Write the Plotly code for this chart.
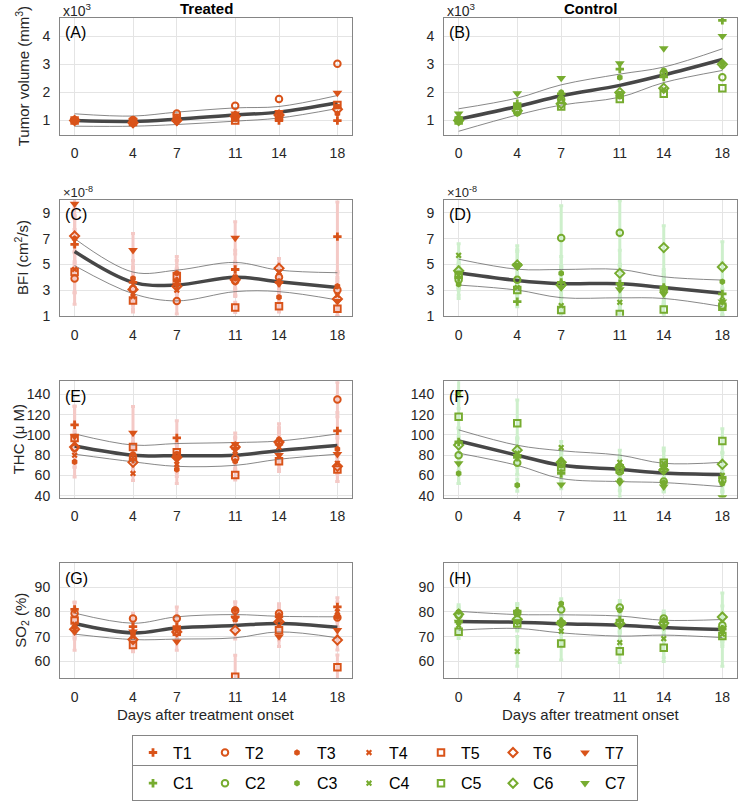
import plotly.graph_objects as go

# ---------------- data ----------------
DAYS = [0, 4, 7, 11, 14, 18]
X_TICKS = [0, 4, 7, 11, 14, 18]
T_NAMES = ["T1", "T2", "T3", "T4", "T5", "T6", "T7"]
C_NAMES = ["C1", "C2", "C3", "C4", "C5", "C6", "C7"]

# Tumor volume (x10^3 mm^3), rows = subjects, cols = days
VOL_T = [
    [1.00, 0.95, 1.05, 1.20, 1.00, 1.00],
    [1.00, 1.02, 1.25, 1.53, 1.77, 3.02],
    [0.98, 0.90, 1.05, 1.10, 1.25, 1.25],
    [1.00, 0.97, 1.00, 1.05, 1.10, 1.50],
    [1.00, 0.95, 1.10, 1.00, 1.15, 1.55],
    [1.00, 0.92, 1.00, 1.15, 1.20, 1.40],
    [1.02, 1.00, 0.95, 1.25, 1.30, 1.98],
]
VOL_C = [
    [1.00, 1.60, 1.95, 2.83, 2.55, 4.56],
    [1.05, 1.30, 1.75, 1.90, 2.70, 2.54],
    [0.95, 1.25, 2.00, 2.53, 2.78, 3.03],
    [1.00, 1.50, 1.80, 1.95, 2.10, 2.95],
    [1.00, 1.40, 1.50, 1.77, 1.95, 2.15],
    [1.00, 1.35, 1.60, 2.00, 2.15, 3.00],
    [1.25, 1.97, 2.51, 3.03, 3.56, 4.00],
]
VOL_T_MEAN = [1.00, 0.97, 1.05, 1.20, 1.30, 1.63]
VOL_T_UP = [1.24, 1.16, 1.30, 1.45, 1.50, 1.89]
VOL_T_LO = [0.80, 0.80, 0.86, 0.98, 1.09, 1.43]
VOL_C_MEAN = [1.05, 1.50, 1.88, 2.25, 2.62, 3.17]
VOL_C_UP = [1.42, 1.80, 2.27, 2.65, 2.90, 3.55]
VOL_C_LO = [0.62, 1.20, 1.55, 1.83, 2.35, 2.78]

# BFI (x1e-8 cm^2/s)
BFI_T = [
    [6.55, 3.60, 3.70, 4.60, 3.60, 7.15],
    [3.90, 3.10, 2.15, 3.70, 4.00, 3.00],
    [7.00, 3.90, 4.30, 3.90, 2.45, 3.30],
    [4.60, 2.50, 3.00, 4.00, 4.40, 2.60],
    [4.40, 2.20, 4.10, 1.65, 1.75, 1.55],
    [7.20, 3.05, 3.30, 3.80, 4.70, 2.30],
    [9.70, 6.10, 3.40, 7.05, 3.50, 2.15],
]
BFI_T_ERR = [
    [2.0, 1.1, 1.0, 1.5, 0.8, 2.7],
    [2.0, 1.2, 1.0, 1.2, 0.9, 1.0],
    [1.8, 1.4, 1.3, 1.3, 0.9, 1.0],
    [1.8, 1.0, 1.0, 1.0, 0.7, 1.2],
    [1.6, 0.9, 1.2, 0.4, 0.45, 0.6],
    [2.2, 1.2, 1.0, 1.2, 0.75, 1.3],
    [2.0, 1.3, 1.2, 1.25, 0.9, 1.2],
]
BFI_C = [
    [4.00, 2.10, 3.60, 3.50, 3.20, 2.70],
    [3.80, 3.80, 7.05, 7.45, 3.00, 1.80],
    [3.45, 4.80, 4.30, 3.40, 3.20, 3.65],
    [5.70, 3.20, 1.80, 2.05, 2.90, 2.20],
    [4.20, 3.00, 1.45, 1.15, 1.50, 1.70],
    [4.50, 4.95, 3.40, 4.30, 6.30, 4.80],
    [4.30, 4.93, 3.20, 3.05, 2.70, 2.10],
]
BFI_C_ERR = [
    [1.0, 0.4, 1.2, 1.5, 1.0, 0.9],
    [1.2, 1.1, 2.5, 2.5, 1.2, 0.8],
    [1.1, 1.2, 1.3, 1.5, 1.2, 1.5],
    [0.9, 0.9, 0.6, 1.0, 1.0, 0.8],
    [1.0, 0.9, 0.3, 0.3, 0.4, 0.7],
    [1.3, 1.5, 1.5, 1.8, 1.7, 1.95],
    [1.2, 1.2, 1.5, 1.4, 1.0, 1.0],
]
BFI_T_MEAN = [6.00, 3.60, 3.40, 4.00, 3.65, 3.20]
BFI_T_UP = [7.00, 4.40, 4.55, 5.15, 4.55, 4.35]
BFI_T_LO = [4.90, 2.72, 2.16, 2.88, 2.88, 2.23]
BFI_C_MEAN = [4.35, 3.75, 3.50, 3.50, 3.20, 2.75]
BFI_C_UP = [5.40, 4.62, 4.60, 4.60, 4.03, 3.78]
BFI_C_LO = [3.39, 3.00, 2.41, 2.40, 2.35, 1.72]

# THC (uM)
THC_T = [
    [110, 76, 97, 87, 91, 104],
    [87, 78.7, 80, 77, 92, 135],
    [73.5, 81, 66, 74, 95.5, 86],
    [80, 62, 71, 81, 88, 72],
    [97, 88, 83, 60.5, 74, 66],
    [88, 73, 78, 88, 93, 69],
    [98.5, 102, 77, 91, 80, 81],
]
THC_T_ERR = [
    [18, 12, 17, 10, 12, 18],
    [15, 12, 14, 10, 15, 17],
    [15, 12, 14, 10, 10, 14],
    [12, 7, 12, 9, 10, 10],
    [14, 10, 12, 5, 10, 12],
    [16, 12, 13, 10, 18, 15],
    [30, 26, 14, 11, 14, 16],
]
THC_C = [
    [93, 78, 62, 70, 66, 58],
    [80, 72.5, 71, 64, 54, 55],
    [62, 50.5, 75, 55, 53, 52],
    [141, 82, 87.5, 73, 72, 60],
    [118, 111.5, 68, 66, 72.5, 94],
    [90, 85, 73, 68, 65.5, 71],
    [72, 79, 51, 53, 49, 38.5],
]
THC_C_ERR = [
    [14, 10, 8, 10, 9, 8],
    [15, 12, 9, 11, 8, 9],
    [10, 6, 10, 10, 9, 8],
    [15, 14, 6, 12, 15, 10],
    [20, 23, 9, 11, 12, 12],
    [16, 12, 10, 10, 10, 12],
    [20, 18, 4, 15, 5, 5],
]
THC_T_MEAN = [89, 80, 79.5, 80, 84.5, 89.5]
THC_T_UP = [101, 90, 91.5, 92.5, 94, 101]
THC_T_LO = [81, 73.5, 69, 70, 76, 81]
THC_C_MEAN = [94, 80, 70, 66, 62.5, 61]
THC_C_UP = [105, 89.8, 84.4, 80, 72, 73]
THC_C_LO = [82, 70, 57, 54, 53, 49]

# SO2 (%)
SO2_T = [
    [81, 74, 74, 78, 78, 82],
    [79.3, 77.3, 77.3, 80.5, 79.3, 77.7],
    [73.7, 71.5, 73, 81, 78.5, 78],
    [75, 70, 72, 77, 76.6, 80],
    [76.5, 66.6, 72, 53.8, 72.6, 57.6],
    [73, 68.8, 71.9, 72.6, 76, 68.6],
    [72, 72, 68, 77.3, 70, 72.6],
]
SO2_T_ERR = [
    [3, 3, 4, 4, 4, 3.7],
    [4.5, 2.2, 4.7, 3.5, 4, 4],
    [4, 3, 4, 3, 4, 4],
    [4, 3, 4, 4, 4, 4],
    [5, 2.7, 4, 8.7, 4, 5],
    [4, 4, 4, 3.6, 4, 4],
    [7.5, 4, 3.5, 4, 4, 4],
]
SO2_C = [
    [76, 80.3, 76, 76.6, 76, 73],
    [78.6, 79.5, 80.9, 81.8, 77.3, 74.6],
    [80, 80, 83.3, 80.6, 76.5, 72],
    [74.5, 64, 72.2, 67.6, 69.2, 71],
    [72, 75.3, 67.2, 64.1, 65.5, 70.2],
    [79, 77, 75.5, 75.3, 75.5, 77.9],
    [75.9, 76, 75, 74.5, 74, 73.3],
]
SO2_C_ERR = [
    [3, 3, 3, 4, 3, 5],
    [3, 3, 3, 2.8, 3, 5],
    [2.9, 3.3, 2, 3, 3, 5],
    [3, 6, 5, 4, 9.3, 5],
    [2.8, 3, 6.7, 4.6, 4, 12.2],
    [3, 3, 3, 3, 3, 9.7],
    [3, 3, 3, 3, 3, 4],
]
SO2_T_MEAN = [75.3, 71.5, 73.5, 74.5, 75.3, 73.8]
SO2_T_UP = [79.5, 75.4, 78, 78.9, 78.2, 78]
SO2_T_LO = [71, 68.8, 69, 69.5, 71.9, 69.5]
SO2_C_MEAN = [76.1, 75.8, 75.2, 74.6, 73.7, 72.9]
SO2_C_UP = [80.2, 78.9, 78.8, 78.3, 76.6, 76.9]
SO2_C_LO = [72.6, 73.3, 71.5, 70.2, 70.6, 69.6]

# ---------------- layout / style ----------------
W, H = 738, 804
FONT = "Liberation Sans, Arial, Helvetica, sans-serif"
T_COLOR = "#D95319"
C_COLOR = "#77AC30"
T_ERR_COLOR = "#F4C9C6"
C_ERR_COLOR = "#CDEFCB"
SYMBOLS = ["cross", "circle-open", "hexagon", "x", "square-open", "diamond-open", "triangle-down"]
SIZES = [7, 6.5, 6.5, 5.5, 6.5, 7, 8.5]
OPEN = [False, True, False, False, True, True, False]


def fx(px):
    return px / W


def fy(py):
    return 1 - py / H


COLS = [(60, 352), (444, 737)]
ROWS = [(18, 136), (202, 319), (385, 502.5), (569, 685)]
YLAB_X = [22, 22, 18, 22]

rows_cfg = [
    dict(T=VOL_T, TE=None, TM=(VOL_T_MEAN, VOL_T_UP, VOL_T_LO),
         C=VOL_C, CE=None, CM=(VOL_C_MEAN, VOL_C_UP, VOL_C_LO),
         yr=[0.5, 4.65], yt=[1, 2, 3, 4], ylab="Tumor volume (mm<sup>3</sup>)", letters=("(A)", "(B)")),
    dict(T=BFI_T, TE=BFI_T_ERR, TM=(BFI_T_MEAN, BFI_T_UP, BFI_T_LO),
         C=BFI_C, CE=BFI_C_ERR, CM=(BFI_C_MEAN, BFI_C_UP, BFI_C_LO),
         yr=[1, 10], yt=[1, 3, 5, 7, 9], ylab="BFI (cm<sup>2</sup>/s)", letters=("(C)", "(D)")),
    dict(T=THC_T, TE=THC_T_ERR, TM=(THC_T_MEAN, THC_T_UP, THC_T_LO),
         C=THC_C, CE=THC_C_ERR, CM=(THC_C_MEAN, THC_C_UP, THC_C_LO),
         yr=[38.3, 153], yt=[40, 60, 80, 100, 120, 140], ylab="THC (μ M)", letters=("(E)", "(F)")),
    dict(T=SO2_T, TE=SO2_T_ERR, TM=(SO2_T_MEAN, SO2_T_UP, SO2_T_LO),
         C=SO2_C, CE=SO2_C_ERR, CM=(SO2_C_MEAN, SO2_C_UP, SO2_C_LO),
         yr=[53.2, 99.6], yt=[60, 70, 80, 90], ylab="SO<sub>2</sub> (%)", letters=("(G)", "(H)")),
]

fig = go.Figure()
annotations = []
layout_axes = {}

for r, cfg in enumerate(rows_cfg):
    for c in range(2):
        idx = r * 2 + c + 1
        xa = "x" if idx == 1 else f"x{idx}"
        ya = "y" if idx == 1 else f"y{idx}"
        vals = cfg["T"] if c == 0 else cfg["C"]
        errs = cfg["TE"] if c == 0 else cfg["CE"]
        mean, up, lo = cfg["TM"] if c == 0 else cfg["CM"]
        names = T_NAMES if c == 0 else C_NAMES
        col = T_COLOR if c == 0 else C_COLOR
        ecol = T_ERR_COLOR if c == 0 else C_ERR_COLOR

        if errs is not None:
            for s in range(7):
                fig.add_trace(go.Scatter(
                    x=DAYS, y=vals[s], mode="markers", xaxis=xa, yaxis=ya,
                    marker=dict(size=1, color="rgba(0,0,0,0)"),
                    error_y=dict(type="data", array=errs[s], color=ecol, thickness=3, width=2),
                    showlegend=False, hoverinfo="skip"))
        for curve, w, lc in [(up, 0.8, "#6a6a6a"), (lo, 0.8, "#6a6a6a"), (mean, 3.5, "#474747")]:
            fig.add_trace(go.Scatter(
                x=DAYS, y=curve, mode="lines", xaxis=xa, yaxis=ya,
                line=dict(shape="spline", smoothing=1.0, width=w, color=lc),
                showlegend=False, hoverinfo="skip"))
        for s in range(7):
            fig.add_trace(go.Scatter(
                x=DAYS, y=vals[s], mode="markers", xaxis=xa, yaxis=ya,
                name=names[s], legendgroup=names[s],
                legend="legend" if c == 0 else "legend2",
                showlegend=(r == 0),
                marker=dict(symbol=SYMBOLS[s], size=SIZES[s], color=col,
                            line=dict(width=2 if OPEN[s] else 0, color=col))))

        x0, x1 = COLS[c]
        y0, y1 = ROWS[r]
        axcommon = dict(showline=True, mirror=True, linecolor="#858585", linewidth=1,
                        showgrid=True, gridcolor="#e4e4e4", gridwidth=1, zeroline=False,
                        ticks="", tickfont=dict(family=FONT, size=14, color="#262626"))
        layout_axes["xaxis" if idx == 1 else f"xaxis{idx}"] = dict(
            domain=[fx(x0), fx(x1)], anchor=ya, range=[-1, 19],
            tickvals=X_TICKS, ticktext=[str(t) for t in X_TICKS], ticklabelstandoff=6, **axcommon)
        layout_axes["yaxis" if idx == 1 else f"yaxis{idx}"] = dict(
            domain=[fy(y1), fy(y0)], anchor=xa, range=cfg["yr"],
            tickvals=cfg["yt"], ticklabelstandoff=6, **axcommon)

        annotations.append(dict(text=cfg["letters"][c], x=fx(x0 + 3), y=fy(y0 + 15),
                                xref="paper", yref="paper", xanchor="left", yanchor="middle",
                                showarrow=False, font=dict(family=FONT, size=16, color="#000000")))
    yc = (ROWS[r][0] + ROWS[r][1]) / 2
    annotations.append(dict(text=cfg["ylab"], x=fx(YLAB_X[r]), y=fy(yc), xref="paper", yref="paper",
                            xanchor="center", yanchor="middle", textangle=-90, showarrow=False,
                            font=dict(family=FONT, size=15, color="#262626")))

# titles, exponents, x labels
for c, title in enumerate(["<b>Treated</b>", "<b>Control</b>"]):
    x0, x1 = COLS[c]
    xc = (x0 + x1) / 2
    annotations.append(dict(text=title, x=fx(xc), y=fy(9), xref="paper", yref="paper",
                            xanchor="center", yanchor="middle", showarrow=False,
                            font=dict(family=FONT, size=15, color="#000000")))
    annotations.append(dict(text="x10<sup>3</sup>", x=fx(x0 + 1), y=fy(10), xref="paper", yref="paper",
                            xanchor="left", yanchor="middle", showarrow=False,
                            font=dict(family=FONT, size=14, color="#262626")))
    annotations.append(dict(text="×10<sup>-8</sup>", x=fx(x0 + 1), y=fy(194), xref="paper", yref="paper",
                            xanchor="left", yanchor="middle", showarrow=False,
                            font=dict(family=FONT, size=13, color="#262626")))
    annotations.append(dict(text="Days after treatment onset", x=fx(xc), y=fy(722),
                            xref="paper", yref="paper", xanchor="center", yanchor="middle",
                            showarrow=False, font=dict(family=FONT, size=15, color="#262626")))

legend_common = dict(orientation="h", xanchor="left", yanchor="top", x=fx(132),
                     bordercolor="#858585", borderwidth=1, bgcolor="#ffffff",
                     font=dict(family=FONT, size=16, color="#000000"),
                     itemwidth=30, entrywidth=27, entrywidthmode="pixels",
                     tracegroupgap=0, traceorder="normal")

fig.update_layout(
    width=W, height=H, margin=dict(l=0, r=0, t=0, b=0),
    paper_bgcolor="#ffffff", plot_bgcolor="#ffffff",
    font=dict(family=FONT),
    annotations=annotations,
    legend=dict(y=fy(742), **legend_common),
    legend2=dict(y=fy(773), **legend_common),
    **layout_axes,
)

# the default html page has an 8px body margin; remove it so the figure fills the window
fig.write_html("out.html", config={"displayModeBar": False},
               post_script="document.body.style.margin='0px';")
